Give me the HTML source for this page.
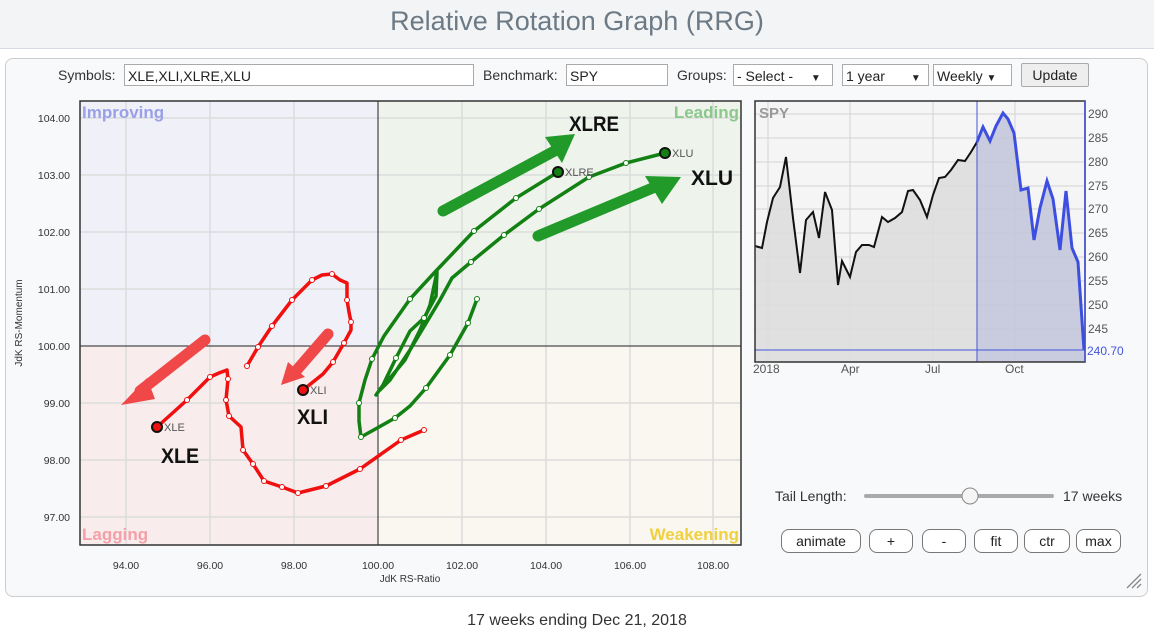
<!DOCTYPE html>
<html><head><meta charset="utf-8"><style>
body{margin:0;width:1154px;height:635px;background:#fff;font-family:"Liberation Sans",sans-serif;position:relative;overflow:hidden}
.hdr{position:absolute;left:0;top:0;width:1154px;height:48px;background:#f2f4f6;border-bottom:1px solid #d5dbe0}
.title{position:absolute;left:0;width:1154px;top:6px;text-align:center;font-size:27px;color:#6c7a86}
.panel{position:absolute;left:5px;top:58px;width:1141px;height:537px;border:1px solid #ccc;border-radius:8px;background:#f8f9fa}
.t{position:absolute;font-size:14px;color:#333}
.inp{position:absolute;height:22px;border:1px solid #aaa;background:#fff;font-size:14px;line-height:22px;padding-left:3px;box-sizing:border-box;color:#222}
.btn{position:absolute;height:24px;border:1px solid #777;border-radius:8px;background:#fff;font-size:14px;text-align:center;line-height:23px;box-sizing:border-box;color:#222}
</style></head><body>
<div class="hdr"></div>
<div class="title">Relative Rotation Graph (RRG)</div>
<div class="panel"></div>
<div class="t" style="left:58px;top:67px">Symbols:</div>
<div class="inp" style="left:124px;top:64px;width:350px">XLE,XLI,XLRE,XLU</div>
<div class="t" style="left:483px;top:67px">Benchmark:</div>
<div class="inp" style="left:566px;top:64px;width:102px">SPY</div>
<div class="t" style="left:677px;top:67px">Groups:</div>
<div class="inp" style="left:733px;top:64px;width:100px">- Select - <span style="font-size:10px;margin-left:14px">▼</span></div>
<div class="inp" style="left:842px;top:64px;width:87px">1 year <span style="font-size:10px;margin-left:22px">▼</span></div>
<div class="inp" style="left:933px;top:64px;width:79px">Weekly <span style="font-size:10px">▼</span></div>
<div class="btn" style="left:1021px;top:63px;width:68px;border-radius:2px;background:#eee;border-color:#aaa">Update</div>

<svg style="position:absolute;left:0;top:0" width="1154" height="635" font-family="Liberation Sans, sans-serif">
<rect x="80" y="101" width="298" height="245" fill="#eff0f8"/>
<rect x="378" y="101" width="363" height="245" fill="#eef4ec"/>
<rect x="80" y="346" width="298" height="199" fill="#f8ecec"/>
<rect x="378" y="346" width="363" height="199" fill="#f9f7ef"/>
<g stroke="#dcdcdc" stroke-width="1.5">
<line x1="126" y1="101" x2="126" y2="545"/><line x1="210" y1="101" x2="210" y2="545"/><line x1="294" y1="101" x2="294" y2="545"/>
<line x1="462" y1="101" x2="462" y2="545"/><line x1="546" y1="101" x2="546" y2="545"/><line x1="630" y1="101" x2="630" y2="545"/><line x1="713" y1="101" x2="713" y2="545"/>
<line x1="80" y1="118" x2="741" y2="118"/><line x1="80" y1="175" x2="741" y2="175"/><line x1="80" y1="232" x2="741" y2="232"/><line x1="80" y1="289" x2="741" y2="289"/>
<line x1="80" y1="403" x2="741" y2="403"/><line x1="80" y1="460" x2="741" y2="460"/><line x1="80" y1="517" x2="741" y2="517"/>
</g>
<line x1="378" y1="101" x2="378" y2="545" stroke="#222"/>
<line x1="80" y1="346" x2="741" y2="346" stroke="#222"/>
<rect x="80" y="101" width="661" height="444" fill="none" stroke="#333" stroke-width="1.5"/>
<g font-size="17" font-weight="bold">
<text x="82" y="118" fill="#9aa0e8">Improving</text>
<text x="739" y="118" fill="#8cc78c" text-anchor="end">Leading</text>
<text x="82" y="540" fill="#f4a0a8">Lagging</text>
<text x="739" y="540" fill="#f0d040" text-anchor="end">Weakening</text>
</g>
<g font-size="10.5" fill="#333">
<text x="70" y="122" text-anchor="end">104.00</text><text x="70" y="179" text-anchor="end">103.00</text><text x="70" y="236" text-anchor="end">102.00</text><text x="70" y="293" text-anchor="end">101.00</text><text x="70" y="350" text-anchor="end">100.00</text><text x="70" y="407" text-anchor="end">99.00</text><text x="70" y="464" text-anchor="end">98.00</text><text x="70" y="521" text-anchor="end">97.00</text>
<text x="126" y="569" text-anchor="middle">94.00</text><text x="210" y="569" text-anchor="middle">96.00</text><text x="294" y="569" text-anchor="middle">98.00</text><text x="378" y="569" text-anchor="middle">100.00</text><text x="462" y="569" text-anchor="middle">102.00</text><text x="546" y="569" text-anchor="middle">104.00</text><text x="630" y="569" text-anchor="middle">106.00</text><text x="713" y="569" text-anchor="middle">108.00</text>
<text x="410" y="582" text-anchor="middle" font-size="10">JdK RS-Ratio</text>
<text transform="translate(22,323) rotate(-90)" text-anchor="middle" font-size="10">JdK RS-Momentum</text>
</g>
<g fill="none" stroke="#f01010" stroke-width="3.5" stroke-linejoin="round" stroke-linecap="round">
<polyline points="424,430 401,440 360,469 326,486 298,493 282,487 264,481 253,464 243,450 241,427 229,416 226,400 228,379 227,370 219,373 210,377 187,400 157,427"/>
<polyline points="247,366 258,347 272,326 292,300 312,280 322,275 332,274 340,280 347,283 347,300 349,312 351,322 351,330 344,343 333,362 323,374 303,390"/>
</g>
<g fill="none" stroke="#128012" stroke-width="3.5" stroke-linejoin="round" stroke-linecap="round">
<polyline points="477,299 468,323 450,355 426,388 410,406 395,418 379,427 361,437 359,421 359,403 365,380 372,359 384,336 410,299 435,272 474,231 516,198 558,172"/>
<polyline points="376,395 383,385 396,358 410,331 424,318 436,296 437,272 430,305 420,330 405,360 380,390 390,380 410,350 425,325 440,300 452,278 471,262 504,235 539,209 589,177 626,163 665,153"/>
</g>
<g fill="#fff" stroke="#f01010" stroke-width="1">
<circle cx="401" cy="440" r="2.5"/><circle cx="360" cy="469" r="2.5"/><circle cx="326" cy="486" r="2.5"/><circle cx="298" cy="493" r="2.5"/><circle cx="282" cy="487" r="2.5"/><circle cx="264" cy="481" r="2.5"/><circle cx="253" cy="464" r="2.5"/><circle cx="243" cy="450" r="2.5"/><circle cx="229" cy="416" r="2.5"/><circle cx="226" cy="400" r="2.5"/><circle cx="228" cy="379" r="2.5"/><circle cx="210" cy="377" r="2.5"/><circle cx="187" cy="400" r="2.5"/><circle cx="424" cy="430" r="2.5"/>
<circle cx="247" cy="366" r="2.5"/><circle cx="258" cy="347" r="2.5"/><circle cx="272" cy="326" r="2.5"/><circle cx="292" cy="300" r="2.5"/><circle cx="312" cy="280" r="2.5"/><circle cx="332" cy="274" r="2.5"/><circle cx="347" cy="300" r="2.5"/><circle cx="351" cy="322" r="2.5"/><circle cx="344" cy="343" r="2.5"/><circle cx="333" cy="362" r="2.5"/>
</g>
<g fill="#fff" stroke="#128012" stroke-width="1">
<circle cx="477" cy="299" r="2.5"/><circle cx="468" cy="323" r="2.5"/><circle cx="450" cy="355" r="2.5"/><circle cx="426" cy="388" r="2.5"/><circle cx="395" cy="418" r="2.5"/><circle cx="361" cy="437" r="2.5"/><circle cx="359" cy="403" r="2.5"/><circle cx="372" cy="359" r="2.5"/><circle cx="410" cy="299" r="2.5"/><circle cx="474" cy="231" r="2.5"/><circle cx="516" cy="198" r="2.5"/>
<circle cx="396" cy="358" r="2.5"/><circle cx="424" cy="318" r="2.5"/><circle cx="471" cy="262" r="2.5"/><circle cx="504" cy="235" r="2.5"/><circle cx="539" cy="209" r="2.5"/><circle cx="589" cy="177" r="2.5"/><circle cx="626" cy="163" r="2.5"/>
</g>
<g stroke="#111" stroke-width="2">
<circle cx="157" cy="427" r="5" fill="#f01010"/><circle cx="303" cy="390" r="5" fill="#f01010"/>
<circle cx="558" cy="172" r="5" fill="#128012"/><circle cx="665" cy="153" r="5" fill="#128012"/>
</g>
<g font-size="11" fill="#555">
<text x="164" y="431">XLE</text><text x="310" y="394">XLI</text><text x="565" y="176">XLRE</text><text x="672" y="157">XLU</text>
</g>
<g stroke-width="11" stroke-linecap="round">
<line x1="443" y1="211" x2="560" y2="148" stroke="#229a2a"/>
<line x1="538" y1="236" x2="655" y2="187" stroke="#229a2a"/>
<line x1="205" y1="340" x2="140" y2="391" stroke="#f04848"/>
<line x1="328" y1="334" x2="296" y2="371" stroke="#f04848"/>
</g>
<polygon points="545,137 575,134 562,163" fill="#229a2a"/>
<polygon points="645,176 681,177 662,204" fill="#229a2a"/>
<polygon points="147,378 121,405 155,399" fill="#f04848"/>
<polygon points="288,362 281,385 305,377" fill="#f04848"/>
<g font-size="21" font-weight="bold" fill="#111">
<text x="569" y="131" textLength="50" lengthAdjust="spacingAndGlyphs">XLRE</text><text x="691" y="185" textLength="42" lengthAdjust="spacingAndGlyphs">XLU</text><text x="297" y="424" textLength="31" lengthAdjust="spacingAndGlyphs">XLI</text><text x="161" y="463" textLength="38" lengthAdjust="spacingAndGlyphs">XLE</text>
</g>

<rect x="755" y="101" width="330" height="261" fill="#f5f5f5"/>
<g stroke="#d4d4d4" stroke-width="1">
<line x1="755" y1="114" x2="1085" y2="114"/><line x1="755" y1="138" x2="1085" y2="138"/><line x1="755" y1="162" x2="1085" y2="162"/><line x1="755" y1="186" x2="1085" y2="186"/><line x1="755" y1="209" x2="1085" y2="209"/><line x1="755" y1="233" x2="1085" y2="233"/><line x1="755" y1="257" x2="1085" y2="257"/><line x1="755" y1="281" x2="1085" y2="281"/><line x1="755" y1="305" x2="1085" y2="305"/><line x1="755" y1="329" x2="1085" y2="329"/>
<line x1="768" y1="101" x2="768" y2="362"/><line x1="850" y1="101" x2="850" y2="362"/><line x1="933" y1="101" x2="933" y2="362"/><line x1="1015" y1="101" x2="1015" y2="362"/>
</g>
<polygon fill="#dcdcdc" fill-opacity="0.85" points="755,362 755,246 762,248 767,222 773,198 780,187 786,157 793,218 800,273 806,220 813,212 819,238 825,192 832,210 838,285 842,261 850,277 856,252 862,245 869,245 874,247 882,217 888,222 895,218 902,212 908,191 913,190 920,200 927,217 933,195 939,178 945,177 951,170 958,160 965,161 971,152 977,142 977,362"/>
<polygon fill="#c4c6dc" fill-opacity="0.9" points="977,142 983,127 990,141 996,126 1003,113 1008,119 1014,133 1021,190 1028,188 1034,240 1040,208 1047,181 1053,199 1060,250 1066,191 1072,248 1078,262 1084,350 1084,362 977,362"/>
<polyline fill="none" stroke="#111" stroke-width="2" points="755,246 762,248 767,222 773,198 780,187 786,157 793,218 800,273 806,220 813,212 819,238 825,192 832,210 838,285 842,261 850,277 856,252 862,245 869,245 874,247 882,217 888,222 895,218 902,212 908,191 913,190 920,200 927,217 933,195 939,178 945,177 951,170 958,160 965,161 971,152 977,142"/>
<polyline fill="none" stroke="#3d4fe0" stroke-width="3" points="977,142 983,127 990,141 996,126 1003,113 1008,119 1014,133 1021,190 1028,188 1034,240 1040,208 1047,181 1053,199 1060,250 1066,191 1072,248 1078,262 1084,350"/>
<line x1="977" y1="101" x2="977" y2="362" stroke="#4455dd"/>
<line x1="755" y1="350" x2="1085" y2="350" stroke="#4455dd"/>
<rect x="755" y="101" width="330" height="261" fill="none" stroke="#333" stroke-width="1.5"/>
<line x1="1085" y1="101" x2="1085" y2="362" stroke="#4455dd" stroke-width="1.5"/>
<text x="759" y="118" font-size="15" font-weight="bold" fill="#999">SPY</text>
<g font-size="12" fill="#555">
<text x="1088" y="118">290</text><text x="1088" y="142">285</text><text x="1088" y="166">280</text><text x="1088" y="190">275</text><text x="1088" y="213">270</text><text x="1088" y="237">265</text><text x="1088" y="261">260</text><text x="1088" y="285">255</text><text x="1088" y="309">250</text><text x="1088" y="333">245</text>
<text x="1087" y="355" fill="#4455dd">240.70</text>
<text x="753" y="373">2018</text><text x="841" y="373">Apr</text><text x="925" y="373">Jul</text><text x="1005" y="373">Oct</text>
</g>
<text x="775" y="501" font-size="14" fill="#333">Tail Length:</text>
<line x1="866" y1="496" x2="1052" y2="496" stroke="#aaa" stroke-width="4" stroke-linecap="round"/>
<circle cx="970" cy="496" r="8" fill="#f5f5f5" stroke="#888"/>
<text x="1063" y="501" font-size="14" fill="#333">17 weeks</text>
<path d="M1127 588 L1141 574 M1132 588 L1141 579 M1137 588 L1141 584" stroke="#888" stroke-width="1.3"/>
</svg>
<div class="btn" style="left:781px;top:529px;width:80px">animate</div>
<div class="btn" style="left:869px;top:529px;width:44px">+</div>
<div class="btn" style="left:922px;top:529px;width:44px">-</div>
<div class="btn" style="left:974px;top:529px;width:44px">fit</div>
<div class="btn" style="left:1024px;top:529px;width:46px">ctr</div>
<div class="btn" style="left:1076px;top:529px;width:45px">max</div>
<div class="t" style="left:0;width:1154px;text-align:center;top:612px;font-size:16px">17 weeks ending Dec 21, 2018</div>
</body></html>
